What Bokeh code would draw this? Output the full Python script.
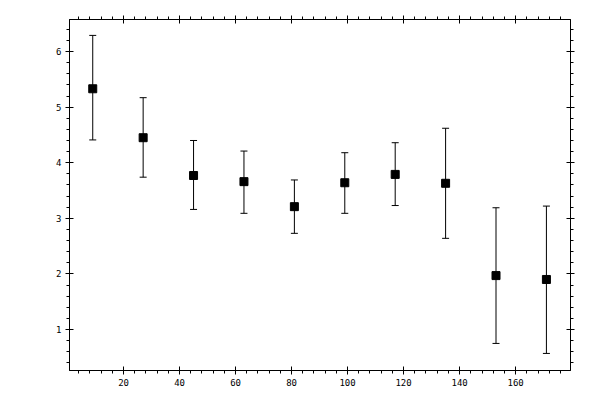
from bokeh.plotting import figure
from bokeh.models import (ColumnDataSource, LinearAxis, SingleIntervalTicker,
                          Whisker, TeeHead, Range1d, CustomJSTickFormatter)
from bokeh.embed import file_html
from bokeh.resources import INLINE

# binned means with error bars
bin_centers = [9, 27, 45, 63, 81, 99, 117, 135, 153, 171]
means = [5.33, 4.45, 3.77, 3.66, 3.21, 3.64, 3.79, 3.63, 1.97, 1.90]
upper = [6.29, 5.17, 4.40, 4.21, 3.69, 4.18, 4.36, 4.62, 3.19, 3.22]
lower = [4.41, 3.74, 3.16, 3.09, 2.73, 3.09, 3.23, 2.64, 0.75, 0.57]

source = ColumnDataSource(dict(x=bin_centers, y=means, upper=upper, lower=lower))

FONT = "DejaVu Sans Mono"

p = figure(
    width=600, height=400,
    x_range=Range1d(0.7, 179.6), y_range=Range1d(0.263, 6.576),
    x_axis_location=None, y_axis_location=None,
    toolbar_location=None, output_backend="svg",
    min_border_left=69, min_border_right=30,
    min_border_top=19, min_border_bottom=30,
)
p.grid.visible = False
p.outline_line_color = "black"
p.background_fill_color = "white"
p.border_fill_color = "white"


def make_axis(kind, labels):
    if kind == "x":
        ticker = SingleIntervalTicker(interval=20, num_minor_ticks=5)
    else:
        ticker = SingleIntervalTicker(interval=1, num_minor_ticks=5)
    ax = LinearAxis(ticker=ticker)
    ax.axis_line_color = "black"
    ax.major_tick_line_color = "black"
    ax.minor_tick_line_color = "black"
    ax.major_tick_in = 4
    ax.major_tick_out = 4
    ax.minor_tick_in = 0
    ax.minor_tick_out = 3
    ax.major_label_text_font = FONT
    ax.major_label_text_font_size = "9px"
    ax.major_label_text_color = "black"
    ax.major_label_standoff = 4
    if not labels:
        ax.formatter = CustomJSTickFormatter(code="return ''")
        ax.major_label_standoff = 0
    return ax


p.add_layout(make_axis("x", True), "below")
p.add_layout(make_axis("x", False), "above")
p.add_layout(make_axis("y", True), "left")
p.add_layout(make_axis("y", False), "right")

p.add_layout(Whisker(
    source=source, base="x", upper="upper", lower="lower",
    line_color="black", line_width=1,
    upper_head=TeeHead(size=7, line_color="black", line_width=1),
    lower_head=TeeHead(size=7, line_color="black", line_width=1),
))

p.scatter("x", "y", source=source, marker="square", size=8,
          fill_color="black", line_color="black")

open("out.html", "w").write(file_html(p, INLINE))
